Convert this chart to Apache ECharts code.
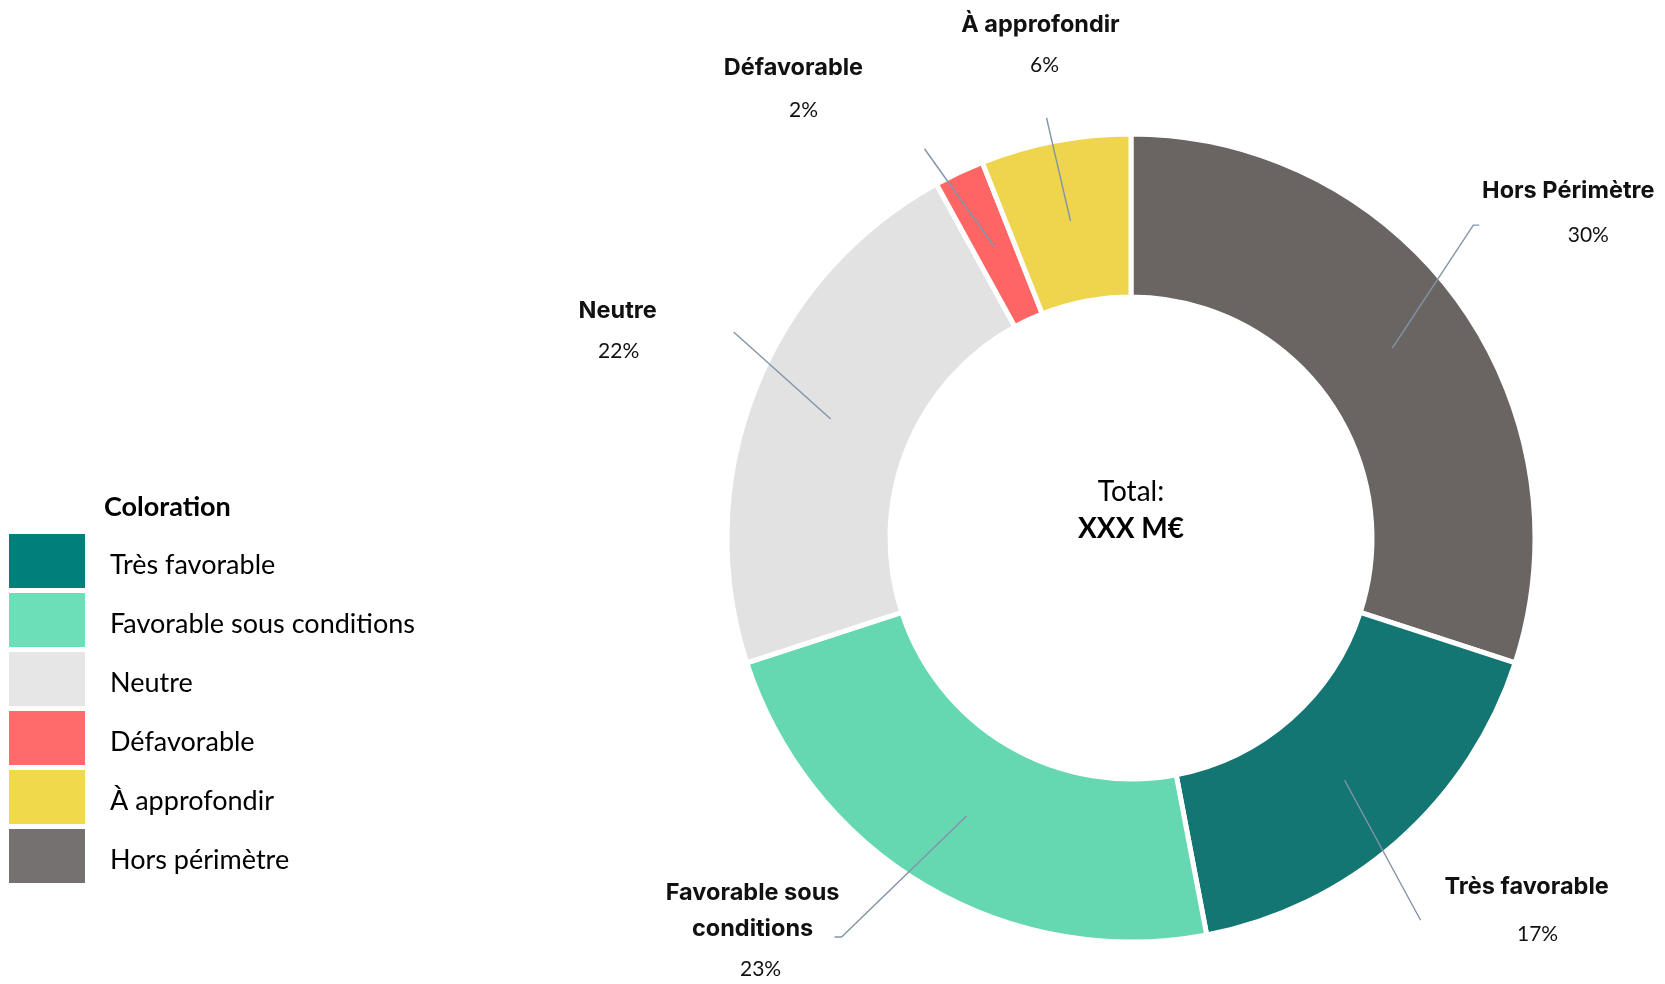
<!DOCTYPE html>
<html>
<head>
<meta charset="utf-8">
<title>Coloration</title>
<script src="https://cdn.jsdelivr.net/npm/echarts@6/dist/echarts.min.js"></script>
<style>
  html, body { margin: 0; padding: 0; background: #fff; }
  #chart-container { width: 1665px; height: 984px; }
</style>
</head>
<body>
<div id="chart-container"></div>
<script>
// data, in slice order (clockwise from 12 o'clock)
var categories = ['Hors périmètre', 'Très favorable', 'Favorable sous conditions', 'Neutre', 'Défavorable', 'À approfondir'];
var shares = [30, 17, 23, 22, 2, 6];
var sliceLabels = ['Hors Périmètre', 'Très favorable', 'Favorable sous\nconditions', 'Neutre', 'Défavorable', 'À approfondir'];
var legendOrder = ['Très favorable', 'Favorable sous conditions', 'Neutre', 'Défavorable', 'À approfondir', 'Hors périmètre'];
var totalLabel = 'XXX M€';

// styles
var sliceColors = ['#6a6563', '#147673', '#66d8b1', '#e2e2e2', '#fe6565', '#eed54d'];
var legendColors = {
  'Très favorable': '#007f7b',
  'Favorable sous conditions': '#6ddfb8',
  'Neutre': '#e7e6e6',
  'Défavorable': '#ff6b6b',
  'À approfondir': '#f0da4c',
  'Hors périmètre': '#767171'
};

// label placement relative to the leader line start (mid ring)
var placement = [
  { label: [176, -175], line: [81, -123], tail: 6, pct: 20, gap: 52 },
  { label: [182, 89], line: [76, 140], tail: 0, pct: 11, gap: 58 },
  { label: [-214, 59], line: [-125, 121], tail: -7, pct: 8, gap: 44 },
  { label: [-213, -126], line: [-97, -87], tail: 0, pct: 1, gap: 44 },
  { label: [-200, -196], line: [-69, -97], tail: 0, pct: 10, gap: 48 },
  { label: [-30, -214], line: [-24, -103], tail: 0, pct: 4, gap: 46 }
];

var pieCenter = [1131, 538];

var dom = document.getElementById('chart-container');
var myChart = echarts.init(dom, null, { renderer: 'canvas' });

var rich = {
  n: { fontFamily: 'Inter', fontWeight: 700, fontSize: 23.5, color: '#111', lineHeight: 36, align: 'center' }
};
placement.forEach(function (p, i) {
  rich['p' + i] = { fontFamily: 'Lato', fontSize: 21, color: '#111', lineHeight: p.gap, align: 'center', padding: [0, 0, 0, 2 * p.pct] };
});

var sliceData = categories.map(function (name, i) {
  return { name: name, value: shares[i], itemStyle: { color: sliceColors[i] } };
});
var labelData = categories.map(function (name, i) {
  return { name: name, value: shares[i] };
});

var option = {
  backgroundColor: '#fff',
  animation: false,
  legend: {
    orient: 'vertical',
    left: 9,
    top: 534,
    padding: 0,
    itemWidth: 76,
    itemHeight: 54,
    itemGap: 5,
    icon: 'rect',
    selectedMode: false,
    itemStyle: { borderWidth: 0 },
    formatter: '{t|{name}}',
    textStyle: {
      fontFamily: 'Lato', fontSize: 27, color: '#000', padding: [0, 0, 0, 20],
      rich: { t: { fontFamily: 'Lato', fontSize: 27, color: '#000', padding: [9, 0, 0, 0] } }
    },
    data: legendOrder.map(function (name) {
      return { name: name, itemStyle: { color: legendColors[name], borderWidth: 0 } };
    })
  },
  graphic: [
    { type: 'text', left: 104, top: 494, style: { text: 'Coloration', font: 'bold 27px Lato', fill: '#000' } },
    { type: 'text', x: pieCenter[0], y: pieCenter[1] - 46, style: { text: 'Total:', font: '28px Lato', fill: '#000', align: 'center', verticalAlign: 'middle' } },
    { type: 'text', x: pieCenter[0], y: pieCenter[1] - 9, style: { text: totalLabel, font: 'bold 28px Lato', fill: '#000', align: 'center', verticalAlign: 'middle' } }
  ],
  series: [
    {
      name: 'Coloration',
      type: 'pie',
      center: pieCenter,
      radius: [241, 404],
      startAngle: 90,
      clockwise: true,
      silent: true,
      itemStyle: { borderColor: '#fff', borderWidth: 5 },
      label: { show: false },
      labelLine: { show: false },
      emphasis: { disabled: true },
      data: sliceData
    },
    {
      name: 'Labels',
      type: 'pie',
      center: pieCenter,
      radius: [0, 323],
      startAngle: 90,
      clockwise: true,
      silent: true,
      z: 5,
      avoidLabelOverlap: false,
      itemStyle: { color: 'rgba(0,0,0,0)' },
      emphasis: { disabled: true },
      label: {
        show: true,
        position: 'outside',
        formatter: function (p) {
          return '{n|' + sliceLabels[p.dataIndex].split('\n').join('}\n{n|') + '}\n{p' + p.dataIndex + '|' + p.value + '%}';
        },
        rich: rich
      },
      labelLine: {
        show: true,
        length: 20,
        length2: 10,
        lineStyle: { color: '#8394aa', width: 1.4 }
      },
      labelLayout: function (params) {
        var i = params.dataIndex;
        var pl = placement[i];
        var s = params.labelLinePoints[0];
        var bend = [s[0] + pl.line[0], s[1] + pl.line[1]];
        var end = [bend[0] + pl.tail, bend[1]];
        return {
          x: s[0] + pl.label[0],
          y: s[1] + pl.label[1],
          align: 'center',
          verticalAlign: 'top',
          labelLinePoints: [s, bend, end]
        };
      },
      data: labelData
    }
  ]
};

myChart.setOption(option);

window.addEventListener('resize', myChart.resize);
</script>
</body>
</html>
